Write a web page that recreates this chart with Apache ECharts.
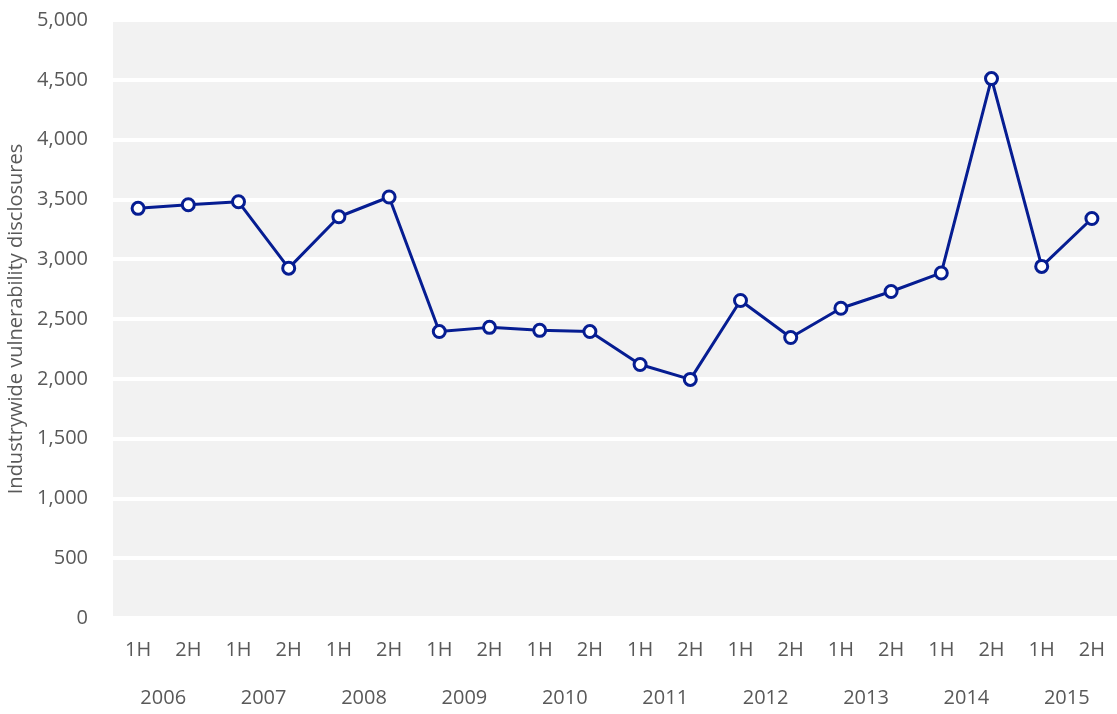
<!DOCTYPE html>
<html>
<head>
<meta charset="utf-8">
<script src="https://cdn.jsdelivr.net/npm/echarts@6/dist/echarts.min.js"></script>
<style>
html, body { margin: 0; padding: 0; background: #fff; }
#main { width: 1117px; height: 714px; }
</style>
</head>
<body>
<div id="main"></div>
<script>
var halves = ['1H','2H','1H','2H','1H','2H','1H','2H','1H','2H','1H','2H','1H','2H','1H','2H','1H','2H','1H','2H'];
var years = ['2006','2007','2008','2009','2010','2011','2012','2013','2014','2015'];
var disclosures = [3425, 3455, 3480, 2925, 3355, 3520, 2395, 2430, 2405, 2395, 2120, 1995, 2655, 2345, 2590, 2730, 2885, 4510, 2940, 3340];
var yTicks = [0, 500, 1000, 1500, 2000, 2500, 3000, 3500, 4000, 4500, 5000];

var font = 'Open Sans';
var navy = '#061d92';

var myChart = echarts.init(document.getElementById('main'));
var option = {
    textStyle: { fontFamily: font },
    grid: {
        left: 113, right: 0, top: 20, bottom: 96,
        outerBoundsMode: 'none',
        containLabel: false,
        show: true, backgroundColor: '#f2f2f2', borderWidth: 0
    },
    xAxis: [
        {
            type: 'category',
            data: halves,
            boundaryGap: true,
            axisLine: { show: false },
            axisTick: { show: false },
            axisLabel: { color: '#595959', fontSize: 20, margin: 22, fontFamily: font }
        },
        {
            type: 'category',
            data: years,
            position: 'bottom',
            offset: 48,
            boundaryGap: true,
            axisLine: { show: false },
            axisTick: { show: false },
            axisLabel: { color: '#595959', fontSize: 20, margin: 22, fontFamily: font }
        }
    ],
    yAxis: {
        type: 'value',
        min: yTicks[0],
        max: yTicks[yTicks.length - 1],
        interval: 500,
        name: 'Industrywide vulnerability disclosures',
        nameLocation: 'middle',
        nameGap: 84,
        nameTextStyle: { color: '#595959', fontSize: 20, fontFamily: font },
        axisLine: { show: false },
        axisTick: { show: false },
        axisLabel: {
            color: '#595959', fontSize: 20, margin: 25, fontFamily: font,
            formatter: function (v) { return v.toLocaleString('en-US'); }
        },
        splitLine: { lineStyle: { color: '#ffffff', width: 4 } }
    },
    series: [
        {
            type: 'line',
            xAxisIndex: 0,
            data: disclosures,
            symbol: 'circle',
            symbolSize: 12,
            lineStyle: { color: navy, width: 3 },
            itemStyle: { color: '#ffffff', borderColor: navy, borderWidth: 3 },
            animation: false
        }
    ]
};
myChart.setOption(option);
</script>
</body>
</html>
